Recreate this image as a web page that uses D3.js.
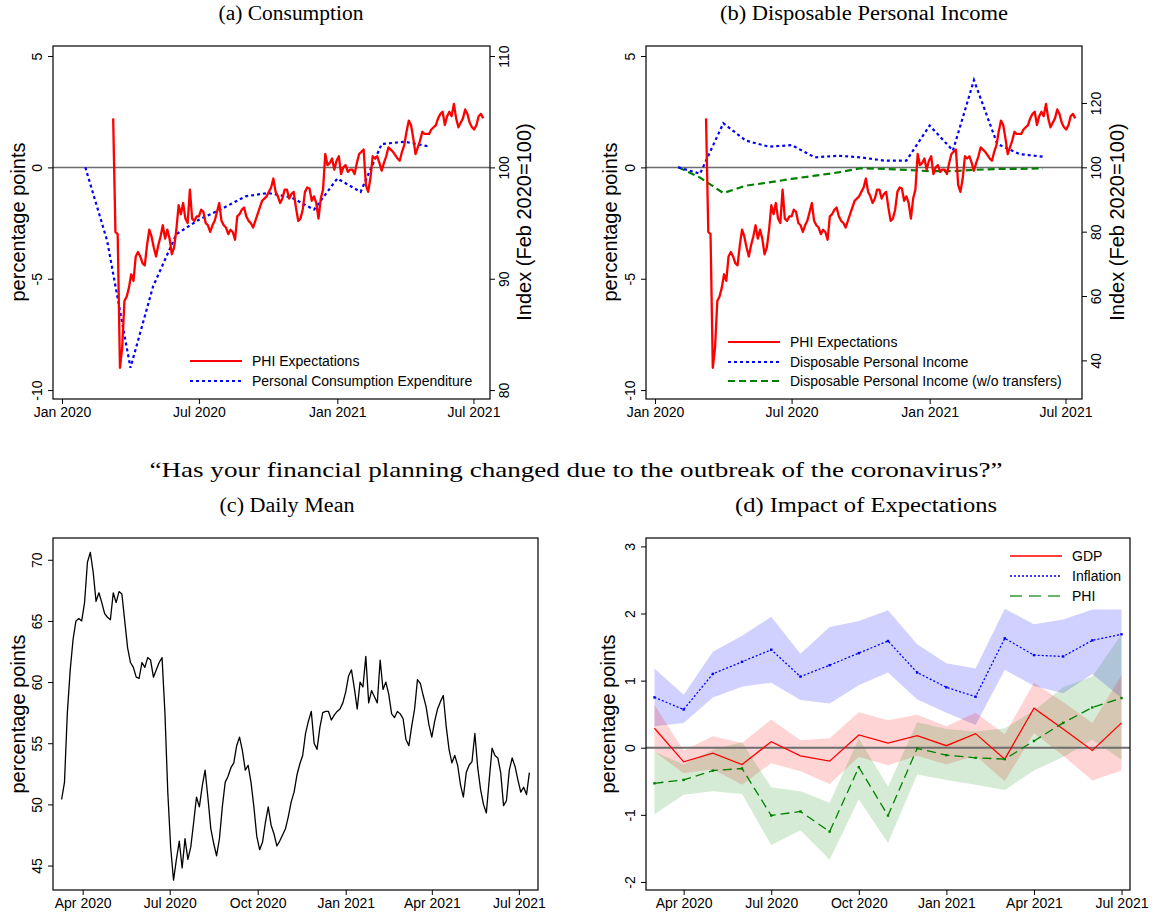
<!DOCTYPE html>
<html>
<head>
<meta charset="utf-8">
<script src="https://cdn.jsdelivr.net/npm/d3@7"></script>
<style>
  body { margin: 0; background: #fff; }
  text { font-family: "Liberation Sans", Arial, sans-serif; }
  .serif { font-family: "Liberation Serif", "Times New Roman", serif; }
</style>
</head>
<body>
<div id="chart"></div>
<script>
// ---- data ----
// PHI expectations, every 3 days from 9 Mar 2020 (used in a and b)
var phiStart = "2020-03-09", phiStep = 3;
var phiExpect = [2.2, -2.9, -3.0, -9.0, -8.1, -6.0, -5.8, -5.4, -4.8, -5.1, -4.0, -3.8, -4.0, -4.3, -4.4, -3.5,
  -2.8, -3.1, -3.6, -4.0, -3.5, -3.1, -2.6, -3.2, -2.8, -3.2, -3.9, -3.6, -2.8, -1.7, -2.1, -1.6, -2.3, -2.5,
  -1.0, -2.3, -2.4, -2.2, -2.2, -1.9, -2.0, -2.5, -2.6, -2.9, -2.6, -2.4, -2.0, -1.6, -2.4, -2.6, -2.7, -3.0,
  -2.8, -2.9, -3.25, -2.2, -2.1, -1.9, -1.8, -2.2, -2.4, -2.5, -2.7, -2.4, -2.1, -1.8, -1.5, -1.4, -1.3, -1.1,
  -0.9, -0.5, -1.1, -1.3, -1.6, -1.4, -1.0, -1.0, -1.4, -1.2, -1.1, -1.8, -2.4, -2.3, -1.9, -1.1, -0.9, -0.95,
  -1.5, -1.3, -1.6, -2.3, -1.4, -1.0, 0.6, 0.1, 0.2, 0.4, -0.1, 0.3, 0.5, -0.3, 0.0, 0.1, -0.2, -0.1, -0.1,
  -0.3, 0.2, 0.6, 0.7, 0.8, -0.8, -1.1, -0.5, 0.5, 0.4, 0.5, 0.2, -0.15, 0.2, 0.5, 0.9, 0.8, 0.7, 0.55, 0.4,
  0.3, 0.7, 1.0, 1.6, 2.1, 1.9, 1.3, 0.6, 0.9, 1.2, 1.6, 1.5, 1.5, 1.5, 1.7, 1.8, 1.9, 2.2, 2.4, 2.5, 1.9,
  2.3, 2.5, 2.3, 2.85, 2.2, 1.8, 2.0, 2.2, 2.6, 2.4, 2.0, 1.8, 1.7, 1.9, 2.3, 2.4, 2.2];

// monthly index series (Feb 2020 = 100)
var pceMonths = ["2020-02", "2020-03", "2020-04", "2020-05", "2020-06", "2020-07", "2020-08", "2020-09",
  "2020-10", "2020-11", "2020-12", "2021-01", "2021-02", "2021-03", "2021-04", "2021-05"];
var pceIndex = [100, 93.4, 82.0, 89.3, 94.0, 95.3, 96.3, 97.4, 97.7, 97.3, 96.2, 99.0, 97.8, 102.1, 102.3, 101.9];

var dpiMonths = ["2020-02", "2020-03", "2020-04", "2020-05", "2020-06", "2020-07", "2020-08", "2020-09",
  "2020-10", "2020-11", "2020-12", "2021-01", "2021-02", "2021-03", "2021-04", "2021-05", "2021-06"];
var dpiIndex = [100, 98.0, 113.7, 108.3, 106.4, 106.9, 103.1, 103.6, 103.1, 102.1, 102.1, 113.0, 105.2, 127.1, 107.3, 104.1, 103.3];
var dpiNoTransfers = [100, 96.8, 92.0, 94.3, 95.3, 96.4, 97.4, 98.4, 99.7, 99.5, 99.2, 98.8, 98.8, 99.2, 99.5, 99.5, 99.7];

// daily mean, every 3 days from 10 Mar 2020
var meanStart = "2020-03-10", meanStep = 3;
var dailyMean = [50.4, 51.8, 57.5, 61.0, 63.5, 65.0, 65.2, 65.0, 66.5, 69.8, 70.6, 69.0, 66.6, 67.3, 66.5, 65.6,
  65.3, 65.1, 67.3, 66.5, 67.4, 67.2, 65.0, 62.8, 61.6, 61.2, 60.4, 60.3, 61.6, 61.2, 62.0, 61.8, 60.4, 61.0,
  61.6, 62.0, 57.5, 51.0, 46.5, 43.8, 45.5, 47.0, 44.8, 47.2, 45.5, 46.5, 48.5, 50.6, 49.8, 51.5, 52.8, 50.5,
  48.0, 46.8, 45.8, 47.2, 49.8, 51.8, 52.3, 53.0, 53.4, 54.8, 55.5, 54.4, 52.8, 53.2, 51.8, 49.8, 47.4, 46.3,
  46.9, 48.5, 49.8, 48.3, 47.6, 46.6, 47.0, 47.5, 48.0, 49.0, 50.2, 51.0, 52.4, 53.3, 54.0, 55.8, 56.8, 57.6,
  55.0, 54.5, 56.3, 57.5, 57.6, 57.6, 56.9, 57.3, 57.6, 57.8, 58.3, 59.2, 60.5, 61.0, 59.5, 57.8, 60.0, 59.6,
  62.1, 58.3, 59.3, 58.8, 58.3, 61.8, 59.4, 60.0, 59.0, 57.4, 57.1, 57.6, 57.4, 57.0, 55.3, 54.8, 56.4, 57.8,
  60.2, 59.9, 58.9, 58.0, 56.5, 55.5, 56.8, 57.8, 58.4, 58.9, 56.4, 54.5, 53.4, 54.0, 53.2, 51.6, 50.6, 52.6,
  53.2, 53.5, 55.8, 53.0, 51.2, 50.0, 49.3, 52.0, 54.6, 54.0, 53.8, 52.6, 49.9, 50.3, 52.8, 53.8, 53.1, 52.0,
  51.0, 51.4, 50.8, 52.6];

// impact of expectations, monthly Mar 2020 .. Jul 2021
var impactMonths = ["Mar 2020", "Apr 2020", "May 2020", "Jun 2020", "Jul 2020", "Aug 2020", "Sep 2020", "Oct 2020",
  "Nov 2020", "Dec 2020", "Jan 2021", "Feb 2021", "Mar 2021", "Apr 2021", "May 2021", "Jun 2021", "Jul 2021"];
var gdpCoef = [0.29, -0.21, -0.08, -0.25, 0.09, -0.12, -0.20, 0.19, 0.07, 0.18, 0.03, 0.21, -0.17, 0.59, 0.28, -0.04, 0.37];
var gdpHi = [0.64, -0.04, 0.17, 0.07, 0.42, 0.11, 0.14, 0.53, 0.41, 0.49, 0.32, 0.52, 0.20, 0.97, 0.68, 0.37, 1.08];
var gdpLo = [-0.06, -0.38, -0.32, -0.55, -0.23, -0.35, -0.54, -0.14, -0.26, -0.12, -0.25, -0.12, -0.50, 0.22, -0.12, -0.49, -0.34];
var inflCoef = [0.75, 0.57, 1.10, 1.28, 1.46, 1.06, 1.23, 1.41, 1.59, 1.12, 0.90, 0.76, 1.63, 1.38, 1.36, 1.60, 1.69];
var inflHi = [1.18, 0.79, 1.43, 1.67, 1.95, 1.40, 1.80, 1.89, 2.05, 1.54, 1.26, 1.18, 2.07, 1.84, 1.91, 2.06, 2.06];
var inflLo = [0.32, 0.37, 0.75, 0.91, 0.97, 0.71, 0.66, 0.93, 1.12, 0.72, 0.52, 0.34, 1.16, 0.92, 0.81, 1.10, 0.74];
var phiCoef = [-0.53, -0.48, -0.34, -0.31, -1.01, -0.95, -1.25, -0.29, -1.01, -0.01, -0.11, -0.15, -0.17, 0.10, 0.37, 0.60, 0.74];
var phiHi = [-0.06, -0.25, -0.03, 0.08, -0.59, -0.65, -0.82, 0.14, -0.58, 0.38, 0.28, 0.24, 0.29, 0.55, 0.90, 1.06, 1.69];
var phiLo = [-0.99, -0.70, -0.65, -0.69, -1.45, -1.23, -1.67, -0.77, -1.42, -0.40, -0.48, -0.55, -0.63, -0.34, -0.14, 0.12, -0.18];

// tick labels
var topTicks = ["2020-01-01", "2020-07-01", "2021-01-01", "2021-07-01"];
var bottomTicks = ["2020-04-01", "2020-07-01", "2020-10-01", "2021-01-01", "2021-04-01", "2021-07-01"];
var impactTicks = [1, 4, 7, 10, 13, 16];

// ---- helpers ----
var svg = d3.select("#chart").append("svg").attr("width", 1152).attr("height", 915);
var parseDay = d3.utcParse("%Y-%m-%d");
var parseMonth = d3.utcParse("%Y-%m");
var fmt = d3.utcFormat("%b %Y");
var plain = function(d) { return String(d); };   // keeps the ascii minus

function stepped(start, step, vals) {
  var s = parseDay(start);
  return vals.map(function(v, i) { return { date: d3.utcDay.offset(s, i * step), v: v }; });
}
function monthly(months, vals) {
  return months.map(function(m, i) { return { date: parseMonth(m), v: vals[i] }; });
}

function frame(b) {
  svg.append("rect").attr("x", b.x0).attr("y", b.y0)
    .attr("width", b.x1 - b.x0).attr("height", b.y1 - b.y0)
    .attr("fill", "none").attr("stroke", "#000").attr("stroke-width", 1.2);
}

function styleAxis(g) {
  g.attr("font-family", "Liberation Sans, Arial, sans-serif").attr("font-size", 14);
  g.select(".domain").remove();
  g.selectAll("line").attr("stroke", "#000");
  g.selectAll("text").attr("fill", "#000");
}

function leftAxis(y, b, ticks) {
  var g = svg.append("g").attr("transform", "translate(" + b.x0 + ",0)")
    .call(d3.axisLeft(y).tickValues(ticks).tickFormat(plain).tickSize(5).tickSizeOuter(0));
  styleAxis(g);
  g.selectAll("text").attr("transform", "rotate(-90)").attr("x", 0).attr("y", -11)
    .attr("dy", 0).attr("text-anchor", "middle");
}

function rightAxis(y, b, ticks) {
  var g = svg.append("g").attr("transform", "translate(" + b.x1 + ",0)")
    .call(d3.axisRight(y).tickValues(ticks).tickFormat(plain).tickSize(5).tickSizeOuter(0));
  styleAxis(g);
  g.selectAll("text").attr("transform", "rotate(-90)").attr("x", 0).attr("y", 19)
    .attr("dy", 0).attr("text-anchor", "middle");
}

function bottomAxis(x, b, ticks, format) {
  var g = svg.append("g").attr("transform", "translate(0," + b.y1 + ")")
    .call(d3.axisBottom(x).tickValues(ticks).tickFormat(format).tickSize(5).tickSizeOuter(0));
  styleAxis(g);
  g.selectAll("text").attr("y", 8);
}

function vTitle(x, y, txt) {
  svg.append("text").attr("transform", "translate(" + x + "," + y + ") rotate(-90)")
    .attr("text-anchor", "middle").attr("font-size", 20).text(txt);
}

function title(cx, y, txt, size, len) {
  svg.append("text").attr("class", "serif").attr("x", cx - len / 2).attr("y", y)
    .attr("font-size", size).attr("textLength", len).attr("lengthAdjust", "spacingAndGlyphs").text(txt);
}

function zeroLine(y, b, w) {
  svg.append("line").attr("x1", b.x0).attr("x2", b.x1).attr("y1", y(0)).attr("y2", y(0))
    .attr("stroke", "#6e6e6e").attr("stroke-width", w);
}

function legendItem(x, y, txt, color, dash, width) {
  svg.append("line").attr("x1", x).attr("x2", x + 52).attr("y1", y).attr("y2", y)
    .attr("stroke", color).attr("stroke-width", width).attr("stroke-dasharray", dash);
  svg.append("text").attr("x", x + 62).attr("y", y + 5).attr("font-size", 14).text(txt);
}

var phiData = stepped(phiStart, phiStep, phiExpect);
var dateDomain = [parseDay("2019-12-20"), parseDay("2021-07-23")];
var leftTicks = [-10, -5, 0, 5];

// ---- (a) Consumption ----
var bA = { x0: 53, x1: 490, y0: 46, y1: 399 };
var xA = d3.scaleUtc().domain(dateDomain).range([bA.x0, bA.x1]);
var yA = d3.scaleLinear().domain([-10.4, 5.45]).range([bA.y1, bA.y0]);
var yA2 = d3.scaleLinear().domain([79.2, 110.9]).range([bA.y1, bA.y0]);

zeroLine(yA, bA, 1.5);
svg.append("path").datum(monthly(pceMonths, pceIndex))
  .attr("d", d3.line().x(function(d) { return xA(d.date); }).y(function(d) { return yA2(d.v); }))
  .attr("fill", "none").attr("stroke", "#0000ff").attr("stroke-width", 2.2).attr("stroke-dasharray", "3,3");
svg.append("path").datum(phiData)
  .attr("d", d3.line().x(function(d) { return xA(d.date); }).y(function(d) { return yA(d.v); }))
  .attr("fill", "none").attr("stroke", "#ff0000").attr("stroke-width", 2.3).attr("stroke-linejoin", "round");
frame(bA);
leftAxis(yA, bA, leftTicks);
rightAxis(yA2, bA, [80, 90, 100, 110]);
bottomAxis(xA, bA, topTicks.map(parseDay), fmt);
vTitle(25, 222, "percentage points");
vTitle(531, 222, "Index (Feb 2020=100)");
legendItem(190, 361, "PHI Expectations", "#ff0000", null, 2.2);
legendItem(190, 381, "Personal Consumption Expenditure", "#0000ff", "3,3", 2.2);
title(291, 20, "(a) Consumption", 20, 145);

// ---- (b) Disposable Personal Income ----
var bB = { x0: 646, x1: 1082, y0: 46, y1: 399 };
var xB = d3.scaleUtc().domain(dateDomain).range([bB.x0, bB.x1]);
var yB = d3.scaleLinear().domain([-10.4, 5.45]).range([bB.y1, bB.y0]);
var yB2 = d3.scaleLinear().domain([28.0, 137.7]).range([bB.y1, bB.y0]);

zeroLine(yB, bB, 1.5);
svg.append("path").datum(monthly(dpiMonths, dpiNoTransfers))
  .attr("d", d3.line().x(function(d) { return xB(d.date); }).y(function(d) { return yB2(d.v); }))
  .attr("fill", "none").attr("stroke", "#008000").attr("stroke-width", 2.2).attr("stroke-dasharray", "7,4");
svg.append("path").datum(monthly(dpiMonths, dpiIndex))
  .attr("d", d3.line().x(function(d) { return xB(d.date); }).y(function(d) { return yB2(d.v); }))
  .attr("fill", "none").attr("stroke", "#0000ff").attr("stroke-width", 2.2).attr("stroke-dasharray", "3,3");
svg.append("path").datum(phiData)
  .attr("d", d3.line().x(function(d) { return xB(d.date); }).y(function(d) { return yB(d.v); }))
  .attr("fill", "none").attr("stroke", "#ff0000").attr("stroke-width", 2.3).attr("stroke-linejoin", "round");
frame(bB);
leftAxis(yB, bB, leftTicks);
rightAxis(yB2, bB, [40, 60, 80, 100, 120]);
bottomAxis(xB, bB, topTicks.map(parseDay), fmt);
vTitle(617, 222, "percentage points");
vTitle(1124, 222, "Index (Feb 2020=100)");
legendItem(728, 342, "PHI Expectations", "#ff0000", null, 2.2);
legendItem(728, 362, "Disposable Personal Income", "#0000ff", "3,3", 2.2);
legendItem(728, 381, "Disposable Personal Income (w/o transfers)", "#008000", "7,4", 2.2);
title(864, 20, "(b) Disposable Personal Income", 20, 288);

// ---- heading ----
title(576, 477, "\u201cHas your financial planning changed due to the outbreak of the coronavirus?\u201d", 21.5, 853);

// ---- (c) Daily Mean ----
var bC = { x0: 53, x1: 538, y0: 538, y1: 890 };
var xC = d3.scaleUtc().domain([parseDay("2020-03-01"), parseDay("2021-07-21")]).range([bC.x0, bC.x1]);
var yC = d3.scaleLinear().domain([43.0, 71.78]).range([bC.y1, bC.y0]);
svg.append("path").datum(stepped(meanStart, meanStep, dailyMean))
  .attr("d", d3.line().x(function(d) { return xC(d.date); }).y(function(d) { return yC(d.v); }))
  .attr("fill", "none").attr("stroke", "#000").attr("stroke-width", 1.3).attr("stroke-linejoin", "round");
frame(bC);
leftAxis(yC, bC, [45, 50, 55, 60, 65, 70]);
bottomAxis(xC, bC, bottomTicks.map(parseDay), fmt);
vTitle(25, 714, "percentage points");
title(287, 512, "(c) Daily Mean", 20, 135);

// ---- (d) Impact of Expectations ----
var bD = { x0: 646, x1: 1130, y0: 538, y1: 890 };
var xD = d3.scaleLinear().domain([-0.29, 16.29]).range([bD.x0, bD.x1]);
var yD = d3.scaleLinear().domain([-2.12, 3.125]).range([bD.y1, bD.y0]);
var idx = d3.range(impactMonths.length);

var series = [
  { c: inflCoef, hi: inflHi, lo: inflLo, color: "#0000ff", fill: "rgba(0,0,255,0.18)", dash: "2,2" },
  { c: gdpCoef, hi: gdpHi, lo: gdpLo, color: "#ff0000", fill: "rgba(255,0,0,0.17)", dash: null },
  { c: phiCoef, hi: phiHi, lo: phiLo, color: "#008000", fill: "rgba(0,128,0,0.16)", dash: "9,5" }
];
series.forEach(function(s) {
  svg.append("path").datum(idx)
    .attr("d", d3.area().x(function(i) { return xD(i); })
      .y0(function(i) { return yD(s.lo[i]); }).y1(function(i) { return yD(s.hi[i]); }))
    .attr("fill", s.fill);
});
zeroLine(yD, bD, 2);
series.forEach(function(s) {
  svg.append("path").datum(idx)
    .attr("d", d3.line().x(function(i) { return xD(i); }).y(function(i) { return yD(s.c[i]); }))
    .attr("fill", "none").attr("stroke", s.color).attr("stroke-width", 1.3)
    .attr("stroke-dasharray", s.dash);
  if (s.dash) {
    svg.append("g").selectAll("rect").data(idx).enter().append("rect")
      .attr("x", function(i) { return xD(i) - 1.2; }).attr("y", function(i) { return yD(s.c[i]) - 1.2; })
      .attr("width", 2.4).attr("height", 2.4).attr("fill", s.color);
  }
});
frame(bD);
leftAxis(yD, bD, [-2, -1, 0, 1, 2, 3]);
bottomAxis(xD, bD, impactTicks, function(i) { return impactMonths[i]; });
vTitle(615, 714, "percentage points");
legendItem(1010, 556, "GDP", "#ff0000", null, 1.3);
legendItem(1010, 576, "Inflation", "#0000ff", "2,2", 1.3);
legendItem(1010, 596, "PHI", "#3c9c3c", "12,7", 1.6);
title(866, 512, "(d) Impact of Expectations", 20, 262);
</script>
</body>
</html>
